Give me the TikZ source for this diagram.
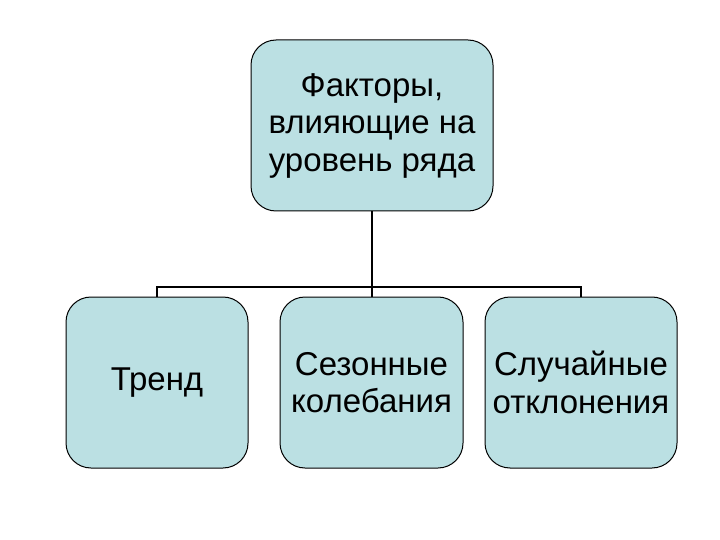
\documentclass[tikz,border=0pt]{standalone}
\usepackage{fontspec}
\setmainfont{Liberation Sans}
\definecolor{boxfill}{RGB}{187,224,227}
\begin{document}
\begin{tikzpicture}[x=1pt,y=-1pt,
  factor/.style={draw=black,line width=1pt,fill=boxfill,rounded corners=25pt,
    minimum height=171pt,align=center,inner sep=0pt,
    font=\fontsize{33}{37.5}\selectfont},
  link/.style={draw=black,line width=2pt}]
\useasboundingbox (0,0) rectangle (720,540);
\node[factor,minimum width=242pt] (top) at (372,125.5) {Факторы,\\влияющие на\\уровень ряда};
\node[factor,minimum width=182pt] (trend) at (157,382.5) {Тренд};
\node[factor,minimum width=183pt] (season) at (371.5,382.5) {Сезонные\\колебания};
\node[factor,minimum width=192pt] (random) at (581,382.5) {Случайные\\отклонения};
\coordinate (bus) at (372,287);
\draw[link] (top.south) -- (top.south |- bus);
\draw[link] (trend.north) -- (trend.north |- bus) -| (random.north);
\draw[link] (season.north) -- (season.north |- bus);
\end{tikzpicture}
\end{document}
